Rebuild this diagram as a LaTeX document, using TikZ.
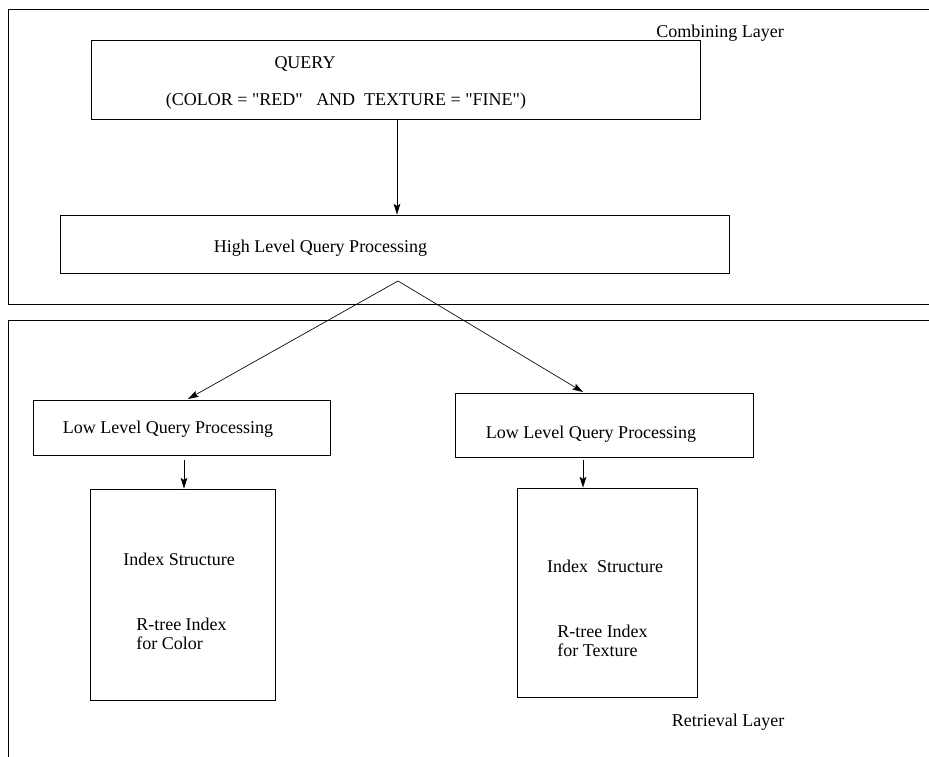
\documentclass[tikz,border=0pt]{standalone}
\usepackage{fontspec}
\setmainfont{Liberation Serif}[Ligatures=TeXOff]
\usetikzlibrary{arrows.meta}
\begin{document}
\begin{tikzpicture}[x=0.75pt,y=-0.75pt,
  box/.style={draw, line width=0.6pt, inner sep=0pt},
  lbl/.style={font=\fontsize{13.5}{14.5}\selectfont, inner sep=0pt},
  layer/.style={line width=0.6pt},
  arr/.style={-{Stealth[length=8pt,width=5pt,inset=1.5pt]}, line width=0.5pt}]
\useasboundingbox (0,0) rectangle (929,757);
\fill[white] (0,0) rectangle (929,757);
% layers
\draw[layer] (929,9) -- (8,9) -- (8,304) -- (929,304);
\draw[layer] (929,320) -- (8,320) -- (8,757);
\node[lbl] (comb) at (720,33) {Combining Layer};
\node[lbl] (retr) at (728,722) {Retrieval Layer};
% boxes
\node[box, minimum width=456.75pt, minimum height=59.25pt] (qbox) at (395.5,79.5) {};
\node[box, minimum width=501.75pt, minimum height=43.5pt] (hl) at (394.5,244) {};
\node[box, minimum width=222.75pt, minimum height=41.25pt] (ll) at (181.5,427.5) {};
\node[box, minimum width=223.5pt, minimum height=48pt] (lr) at (604,425) {};
\node[box, minimum width=138.75pt, minimum height=158.25pt] (il) at (182.5,594.5) {};
\node[box, minimum width=135pt, minimum height=156.75pt] (ir) at (607,592.5) {};
% texts
\node[lbl] (qt) at (305,64) {QUERY};
\node[lbl] (qc) at (346,101) {(COLOR = "RED"\ \ \ AND\ \ TEXTURE = "FINE")};
\node[lbl] (hlt) at (320.5,248) {High Level Query Processing};
\node[lbl] (llt) at (168,429) {Low Level Query Processing};
\node[lbl] (lrt) at (591,434) {Low Level Query Processing};
\node[lbl] (ilt1) at (179,559) {Index Structure};
\node[lbl, align=left, anchor=west] (ilt2) at (136,634) {R-tree Index\\for Color};
\node[lbl] (irt1) at (605,566) {Index\ \ Structure};
\node[lbl, align=left, anchor=west] (irt2) at (557,641) {R-tree Index\\for Texture};
% connectors
\coordinate (ax1) at (397,0);
\coordinate (ax2) at (184,0);
\coordinate (ax3) at (583,0);
\coordinate (split) at (398,281);
\coordinate (tipl) at (188,399);
\coordinate (tipr) at (583,392);
\draw[arr] (qbox.south -| ax1) -- (hl.north -| ax1);
\draw[arr] (split) -- (tipl);
\draw[arr] (split) -- (tipr);
\draw[arr] (ll.south -| ax2) ++(0,5) -- (il.north -| ax2);
\draw[arr] (lr.south -| ax3) ++(0,3) -- (ir.north -| ax3);
\end{tikzpicture}
\end{document}
